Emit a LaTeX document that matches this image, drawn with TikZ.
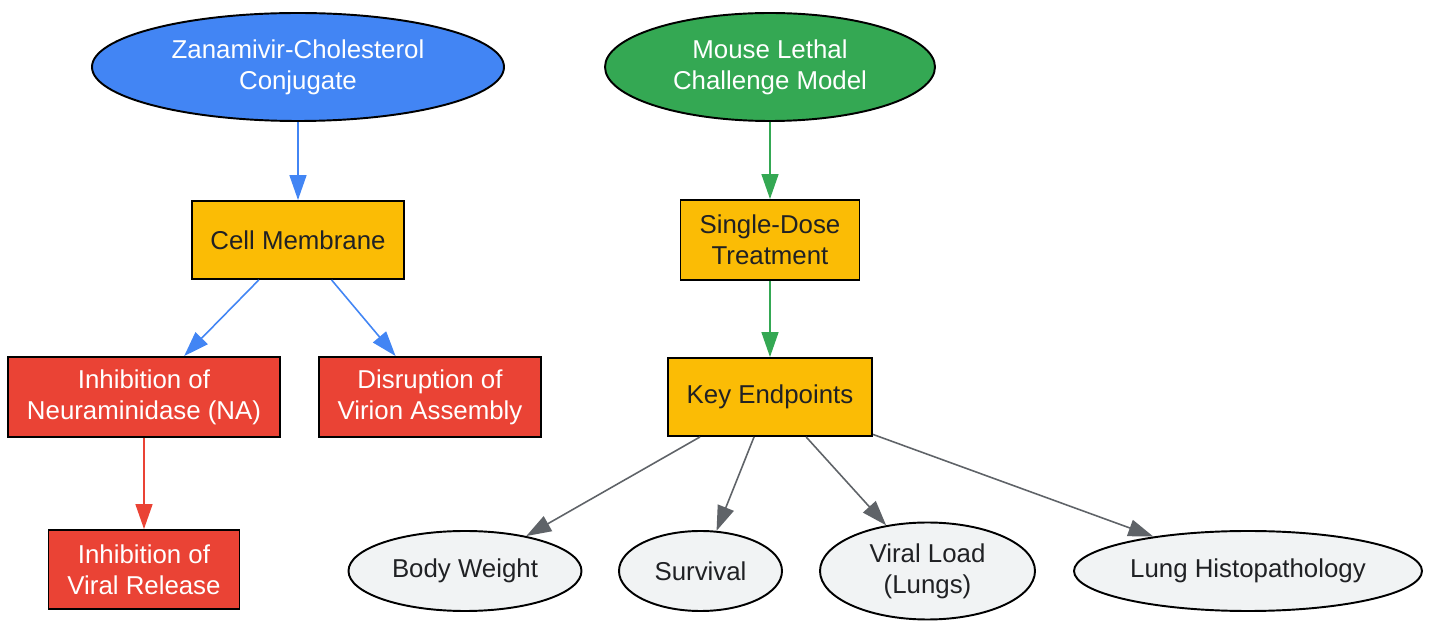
\documentclass[tikz,border=0pt]{standalone}
\usepackage{fontspec}
\setmainfont{Liberation Sans}
\usetikzlibrary{shapes.geometric,arrows.meta}

\definecolor{gblue}{HTML}{4285F4}
\definecolor{ggreen}{HTML}{34A853}
\definecolor{gyellow}{HTML}{FBBC05}
\definecolor{gred}{HTML}{EA4335}
\definecolor{glight}{HTML}{F1F3F4}
\definecolor{gtext}{HTML}{202124}
\definecolor{ggray}{HTML}{5F6368}

\tikzset{
  every node/.style={font=\fontsize{14.7}{17.6}\selectfont, align=center, inner sep=0pt},
  start/.style={ellipse, draw=black, line width=1.1pt, text=white},
  box/.style={rectangle, draw=black, line width=1.1pt},
  stagebox/.style={box, fill=gyellow, text=gtext},
  effectbox/.style={box, fill=gred, text=white},
  endpoint/.style={ellipse, draw=black, line width=1.1pt, fill=glight, text=gtext},
  link/.style={line width=0.9pt, -{Triangle[length=0.5cm, width=0.34cm]}}
}

\begin{document}
\begin{tikzpicture}
\useasboundingbox (0,0) rectangle (28.62,-12.42);
\draw (5.96,-1.34) node[start, fill=gblue, minimum width=8.24cm, minimum height=2.16cm] (Z) {Zanamivir-Cholesterol\\Conjugate}
(15.4,-1.34) node[start, fill=ggreen, minimum width=6.6cm, minimum height=2.16cm] (M) {Mouse Lethal\\Challenge Model}
(5.96,-4.8) node[stagebox, minimum width=4.24cm, minimum height=1.56cm] (CM) {Cell Membrane}
(15.4,-4.8) node[stagebox, minimum width=3.58cm, minimum height=1.6cm] (SD) {Single-Dose\\Treatment}
(15.4,-7.94) node[stagebox, minimum width=4.08cm, minimum height=1.56cm] (KE) {Key Endpoints}
(2.88,-7.94) node[effectbox, minimum width=5.44cm, minimum height=1.6cm] (NA) {Inhibition of\\Neuraminidase (NA)}
(8.6,-7.94) node[effectbox, minimum width=4.44cm, minimum height=1.6cm] (VA) {Disruption of\\Virion Assembly}
(2.88,-11.39) node[effectbox, minimum width=3.82cm, minimum height=1.58cm] (VR) {Inhibition of\\Viral Release}
(9.3,-11.42) node[endpoint, minimum width=4.66cm, minimum height=1.6cm] (BW) {Body Weight}
(14.01,-11.42) node[endpoint, minimum width=3.26cm, minimum height=1.6cm] (SV) {Survival}
(18.55,-11.42) node[endpoint, minimum width=4.3cm, minimum height=1.94cm] (VL) {Viral Load\\(Lungs)}
(24.96,-11.42) node[endpoint, minimum width=6.96cm, minimum height=1.6cm] (LH) {Lung Histopathology};
%mechanism
\draw [link, gblue] (Z)--(CM);
\draw [link, gblue] (CM)--(NA);
\draw [link, gblue] (CM)--(VA);
\draw [link, gred] (NA)--(VR);
%model
\draw [link, ggreen] (M)--(SD);
\draw [link, ggreen] (SD)--(KE);
\draw [link, ggray] (KE)--(BW);
\draw [link, ggray] (KE)--(SV);
\draw [link, ggray] (KE)--(VL);
\draw [link, ggray] (KE)--(LH);
\end{tikzpicture}
\end{document}
